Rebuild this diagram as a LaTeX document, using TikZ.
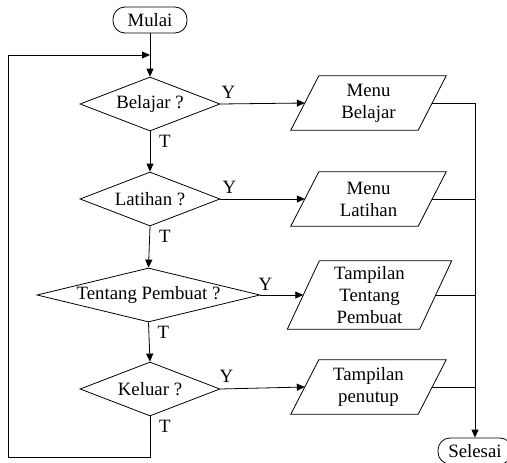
\documentclass[tikz,border=0pt]{standalone}
\usepackage{fontspec}
\setmainfont{Liberation Serif}
\usetikzlibrary{shapes.geometric,arrows.meta}
\begin{document}
\begin{tikzpicture}[x=1pt,y=1pt,
  every node/.style={font=\rmfamily\fontsize{18.8}{22}\selectfont},
  term/.style={draw, line width=0.8pt, rounded corners=12pt, minimum width=74pt, minimum height=26pt, inner sep=0pt},
  decision/.style={draw, line width=0.8pt, diamond, inner sep=0pt, minimum width=140pt, minimum height=54pt},
  io/.style={rectangle, minimum width=127pt, minimum height=54pt, inner sep=0pt, align=center},
  conn/.style={line width=0.8pt},
  arr/.style={conn, -{Triangle[length=8pt,width=7pt]}},
  lbl/.style={inner sep=0pt}
]
\useasboundingbox (0,0) rectangle (507,-463);

\node[term] (mulai) at (150,-20) {Mulai};
\node[decision] (d1) at (150,-104) {\makebox[0pt]{Belajar ?}};
\node[decision] (d2) at (150,-199) {\makebox[0pt]{Latihan ?}};
\node[decision, minimum width=223pt] (d3) at (148.5,-295) {\makebox[0pt]{Tentang Pembuat ?}};
\node[decision] (d4) at (150,-389) {\makebox[0pt]{Keluar ?}};

\node[io] (p1) at (368.5,-103) {Menu\\Belajar};
\node[io] (p2) at (368.5,-199) {Menu\\Latihan};
\node[io, minimum height=68pt, minimum width=132pt] (p3) at (369.5,-295) {Tampilan\\Tentang\\Pembuat};
\node[io] (p4) at (368.5,-387) {Tampilan\\penutup};

% parallelogram outlines
\foreach \n/\s in {p1/14,p2/14,p3/16,p4/14}
  \draw[conn] ([xshift=\s pt]\n.north west) -- ([xshift=\s pt]\n.north east)
    -- ([xshift=-\s pt]\n.south east) -- ([xshift=-\s pt]\n.south west) -- cycle;

\node[term] (selesai) at (475,-451) {Selesai};

\coordinate (loopin) at (150,-55);
\coordinate (bl) at (8,-457);
\coordinate (tl) at (8,-55);
\coordinate (br) at (150,-457);
\coordinate (m1) at (475,-103);

% vertical flow
\draw[arr] (mulai.south) -- (d1.north);
\draw[arr] (d1.south) -- (d2.north);
\draw[arr] (d2.south) -- (d3.north);
\draw[arr] (d3.south) -- (d4.north);
\draw[conn] (d4.south) -- (br) -- (bl) -- (tl);
\draw[arr] (tl) -- (loopin);

% yes branches
\draw[arr] (d1.east) -- (p1.west);
\draw[arr] (d2.east) -- (p2.west);
\draw[arr] (d3.east) -- (p3.west);
\draw[arr] (d4.east) -- (p4.west);

% merge to end
\draw[conn] (p1.east) -- (m1);
\draw[arr] (m1) -- (selesai.north);
\draw[conn] (p2.east) -- (p2.east -| m1);
\draw[conn] (p3.east) -- (p3.east -| m1);
\draw[conn] (p4.east) -- (p4.east -| m1);

% labels
\node[lbl, anchor=south west] (y1) at ([xshift=1pt,yshift=5pt]d1.east) {Y};
\node[lbl, anchor=south west] (y2) at ([xshift=2pt,yshift=5pt]d2.east) {Y};
\node[lbl, anchor=south west] (y3) at ([xshift=-2pt,yshift=4pt]d3.east) {Y};
\node[lbl, anchor=south west] (y4) at ([xshift=-1pt,yshift=6pt]d4.east) {Y};
\node[lbl, anchor=north west] (t1) at ([xshift=9pt,yshift=-4pt]d1.south) {T};
\node[lbl, anchor=north west] (t2) at ([xshift=9pt,yshift=-4pt]d2.south) {T};
\node[lbl, anchor=north west] (t3) at ([xshift=9pt,yshift=-4pt]d3.south) {T};
\node[lbl, anchor=north west] (t4) at ([xshift=9pt,yshift=-4pt]d4.south) {T};
\end{tikzpicture}
\end{document}
